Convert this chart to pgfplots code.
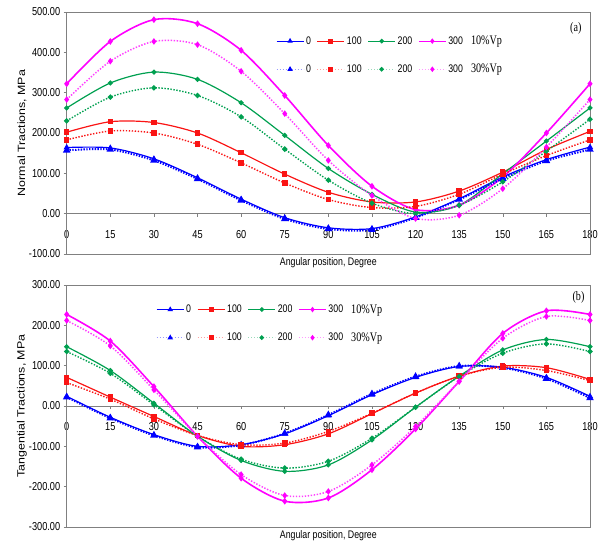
\documentclass[border=0pt]{standalone}
\usepackage{pgfplots}
\usepackage{pgfplotstable}
\pgfplotsset{compat=1.18}
\usepackage{fontspec}
\setmainfont{Liberation Sans}
\newfontfamily\narrowf[FakeStretch=0.8]{Liberation Sans}
\newfontfamily\widef[FakeStretch=1.18]{Liberation Sans}
\newfontfamily\serifn[FakeStretch=0.78]{Liberation Serif}
\definecolor{cblue}{RGB}{0,0,255}
\definecolor{cred}{RGB}{250,20,20}
\definecolor{cgreen}{RGB}{0,160,80}
\definecolor{cmag}{RGB}{255,0,255}
\definecolor{axgray}{RGB}{128,128,128}

\pgfplotstableread{
x   s0   s100 s200 s300 d0   d100 d200 d300
0   164  202  262  322  157  183  230  283
15  163  228  324  427  159  205  289  378
30  136  226  351  481  132  200  312  427
45  89   200  333  471  86   172  293  419
60  36   151  275  405  33   126  240  353
75  -10  98   194  293  -13  76   160  248
90  -35  53   112  169  -38  35   83   132
105 -37  29   48   68   -40  15   26   45
120 -8   29   4    10   -10  18   0    -12
135 37   56   21   21   35   48   21   -4
150 91   103  99   91   87   98   79   62
165 134  159  180  200  131  144  155  165
180 165  204  262  322  159  183  234  283
}\normaltab

\pgfplotstableread{
x   s0   s100 s200 s300 d0   d100 d200 d300
0   24   71   147  227  22   58   135  212
15  -28  22   88   161  -30  17   81   149
30  -71  -26  7    48   -73  -32  3    40
45  -100 -73  -75  -75  -102 -73  -75  -75
60  -96  -100 -135 -179 -97  -96  -132 -170
75  -69  -96  -162 -236 -68  -92  -154 -222
90  -24  -69  -146 -228 -22  -63  -137 -212
105 28   -19  -84  -158 30   -18  -80  -146
120 71   32   -3   -57  73   32   -3   -51
135 98   74   74   61   99   74   73   61
150 96   99   139  180  95   96   131  168
165 71   95   165  236  68   88   154  222
180 24   66   147  227  20   63   135  212
}\tangtab

\pgfplotsset{
  panel/.style={
    scale only axis, width=523.3pt, height=242pt,
    xmin=0, xmax=180, xtick={0,15,...,180},
    axis x line=middle, axis y line=left,
    axis line style={-, draw=axgray, line width=0.6pt},
    hide obscured x ticks=false, hide obscured y ticks=false,
    tick style={axgray, line width=0.5pt}, major tick length=3pt,
    tick align=outside,
    clip=false,
    /pgf/number format/assume math mode=true,
    tick label style={font=\narrowf\fontsize{11.5}{13}\selectfont},
    yticklabel style={/pgf/number format/.cd, fixed, fixed zerofill, precision=2, 1000 sep={}},
    xticklabel style={yshift=-10pt},
    xlabel style={at={(rel axis cs:0.5,0)}, anchor=north, font=\narrowf\fontsize{11}{13}\selectfont},
    ylabel style={at={(rel axis cs:-0.0854,0.5)}, anchor=center, font=\widef\fontsize{10.5}{12}\selectfont},
    xlabel={Angular position, Degree},
    legend columns=5,
    legend image code/.code={\draw[mark repeat=2,mark phase=2,##1] plot coordinates {(0pt,0pt) (13.5pt,0pt) (27pt,0pt)};},
    legend style={draw=none, fill=none, font=\narrowf\fontsize{11}{12}\selectfont,
      row sep=14pt, /tikz/every even column/.append style={column sep=4pt}},
  },
  sol0/.style={cblue, line width=1.2pt, smooth, mark=triangle*, mark size=2.4pt, mark options={solid}},
  sol100/.style={cred, line width=1.2pt, smooth, mark=square*, mark size=2.1pt, mark options={solid}},
  sol200/.style={cgreen, line width=1.2pt, smooth, mark=*, mark size=1.9pt, mark options={solid}},
  sol300/.style={cmag, line width=1.6pt, smooth, mark=diamond*, mark size=2.1pt, mark options={solid}},
  dot0/.style={cblue, line width=2pt, dash pattern=on 1.4pt off 1.4pt, smooth, mark=triangle*, mark size=2.4pt, mark options={solid}},
  dot100/.style={cred, line width=1.4pt, dash pattern=on 1.4pt off 1.6pt, smooth, mark=square*, mark size=2.1pt, mark options={solid}},
  dot200/.style={cgreen, line width=1.4pt, dash pattern=on 1.4pt off 1.6pt, smooth, mark=*, mark size=1.9pt, mark options={solid}},
  dot300/.style={cmag!75, line width=1.5pt, dash pattern=on 1.4pt off 1.6pt, smooth, mark=diamond*, mark size=2.1pt, mark options={solid, fill=cmag, draw=cmag}},
}

\newcommand{\legendentries}{%
  \addlegendimage{cblue, line width=1pt, mark=triangle*, mark size=2.2pt}
  \addlegendentry{0\hspace{8pt}}
  \addlegendimage{cred, line width=1pt, mark=square*, mark size=2pt}
  \addlegendentry{100}
  \addlegendimage{cgreen, line width=1pt, mark=*, mark size=1.8pt}
  \addlegendentry{200}
  \addlegendimage{cmag, line width=1pt, mark=diamond*, mark size=2pt}
  \addlegendentry{300\hspace{5pt}}
  \addlegendimage{empty legend}
  \addlegendentry{\serifn\fontsize{13}{15}\selectfont 10\%Vp}
  \addlegendimage{cblue!40, line width=1pt, dotted, mark=triangle*, mark size=2.2pt, mark options={solid, fill=cblue, draw=cblue}}
  \addlegendentry{0}
  \addlegendimage{cred!40, line width=1pt, dotted, mark=square*, mark size=2pt, mark options={solid, fill=cred, draw=cred}}
  \addlegendentry{100}
  \addlegendimage{cgreen!40, line width=1pt, dotted, mark=*, mark size=1.8pt, mark options={solid, fill=cgreen, draw=cgreen}}
  \addlegendentry{200}
  \addlegendimage{cmag!40, line width=1pt, dotted, mark=diamond*, mark size=2pt, mark options={solid, fill=cmag, draw=cmag}}
  \addlegendentry{300}
  \addlegendimage{empty legend}
  \addlegendentry{\serifn\fontsize{13}{15}\selectfont 30\%Vp}
}

\begin{document}
\begin{tikzpicture}
\useasboundingbox (0,0) rectangle (603pt,546pt);

% Top panel
\begin{axis}[panel, at={(66.7pt,292pt)}, anchor=south west,
  ymin=-100, ymax=500, ytick={-100,0,...,500},
  ylabel={Normal Tractions, MPa},
  legend style={at={(rel axis cs:0.394,0.918)}, anchor=north west}]
\draw[axgray, line width=0.6pt] (rel axis cs:0,0) rectangle (rel axis cs:1,1);
\addplot[sol0, forget plot] table[x=x, y=s0] {\normaltab};
\addplot[sol100, forget plot] table[x=x, y=s100] {\normaltab};
\addplot[sol200, forget plot] table[x=x, y=s200] {\normaltab};
\addplot[sol300, forget plot] table[x=x, y=s300] {\normaltab};
\addplot[dot0, forget plot] table[x=x, y=d0] {\normaltab};
\addplot[dot100, forget plot] table[x=x, y=d100] {\normaltab};
\addplot[dot200, forget plot] table[x=x, y=d200] {\normaltab};
\addplot[dot300, forget plot] table[x=x, y=d300] {\normaltab};
\legendentries
\node[font=\serifn\fontsize{13}{15}\selectfont] at (rel axis cs:0.973,0.934) {(a)};
\end{axis}

% Bottom panel
\begin{axis}[panel, at={(66.7pt,19pt)}, anchor=south west,
  ymin=-300, ymax=300, ytick={-300,-200,...,300},
  ylabel={Tangential Tractions, MPa},
  legend style={at={(rel axis cs:0.165,0.937)}, anchor=north west}]
\draw[axgray, line width=0.6pt] (rel axis cs:0,0) rectangle (rel axis cs:1,1);
\addplot[sol0, forget plot] table[x=x, y=s0] {\tangtab};
\addplot[sol100, forget plot] table[x=x, y=s100] {\tangtab};
\addplot[sol200, forget plot] table[x=x, y=s200] {\tangtab};
\addplot[sol300, forget plot] table[x=x, y=s300] {\tangtab};
\addplot[dot0, forget plot] table[x=x, y=d0] {\tangtab};
\addplot[dot100, forget plot] table[x=x, y=d100] {\tangtab};
\addplot[dot200, forget plot] table[x=x, y=d200] {\tangtab};
\addplot[dot300, forget plot] table[x=x, y=d300] {\tangtab};
\legendentries
\node[font=\serifn\fontsize{13}{15}\selectfont] at (rel axis cs:0.978,0.95) {(b)};
\end{axis}
\end{tikzpicture}
\end{document}
